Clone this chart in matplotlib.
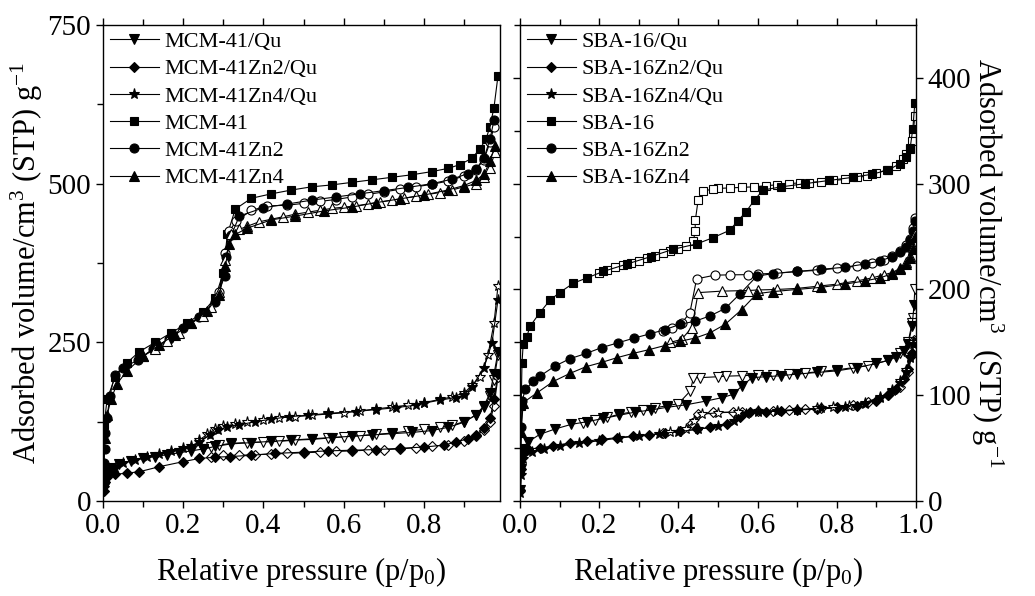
import matplotlib
matplotlib.use("Agg")
import matplotlib.pyplot as plt
from matplotlib.ticker import MultipleLocator

plt.rcParams["font.family"] = ["Liberation Serif", "DejaVu Serif"]
plt.rcParams["mathtext.fontset"] = "custom"
plt.rcParams["mathtext.rm"] = "Liberation Serif"
plt.rcParams["mathtext.it"] = "Liberation Serif:italic"

# ---------------- left panel: MCM-41 family ----------------
mcm_p_ads = [0.003, 0.01, 0.03, 0.06, 0.09, 0.13, 0.17, 0.21, 0.25, 0.28, 0.30, 0.31, 0.33, 0.37, 0.42, 0.47,
             0.52, 0.57, 0.62, 0.67, 0.72, 0.77, 0.82, 0.86, 0.89, 0.92, 0.94, 0.955, 0.965, 0.975, 0.985]
mcm_v_ads = [120, 160, 195, 218, 235, 250, 265, 280, 298, 320, 360, 420, 460, 477, 484, 490,
             495, 498, 502, 506, 510, 514, 519, 524, 530, 540, 555, 570, 590, 620, 670]

mcmzn2_p_ads = [0.002, 0.004, 0.006, 0.01, 0.017, 0.029, 0.05, 0.087, 0.125, 0.165, 0.2, 0.24, 0.28, 0.303, 0.307,
                0.32, 0.34, 0.4, 0.46, 0.52, 0.58, 0.64, 0.7, 0.76, 0.82, 0.87, 0.91, 0.93, 0.95, 0.965, 0.975]
mcmzn2_v_ads = [60, 82, 107, 131, 165, 199, 210, 222, 240, 256, 273, 290, 313, 354, 384,
                419, 449, 462, 468, 474, 479, 484, 489, 494, 500, 507, 516, 523, 540, 570, 600]
mcmzn2_p_des = [0.975, 0.965, 0.95, 0.93, 0.9, 0.86, 0.82, 0.78, 0.74, 0.7, 0.66, 0.62, 0.58, 0.54, 0.5, 0.46,
                0.41, 0.37, 0.332, 0.315, 0.305, 0.29]
mcmzn2_v_des = [590, 565, 538, 522, 512, 504, 499, 495, 491, 487, 483, 479, 475, 472, 469, 466,
                465, 458, 441, 425, 390, 330]

mcmzn4_p_ads = [0.002, 0.005, 0.01, 0.02, 0.035, 0.06, 0.1, 0.14, 0.18, 0.22, 0.26, 0.29, 0.305, 0.315, 0.33,
                0.36, 0.42, 0.48, 0.55, 0.62, 0.68, 0.74, 0.8, 0.86, 0.9, 0.93, 0.95, 0.965, 0.978]
mcmzn4_v_ads = [50, 100, 135, 160, 185, 205, 228, 246, 262, 280, 300, 325, 370, 405, 420,
                430, 443, 449, 457, 463, 470, 476, 482, 490, 497, 505, 515, 535, 560]
mcmzn4_p_des = [0.978, 0.965, 0.95, 0.93, 0.9, 0.87, 0.84, 0.81, 0.78, 0.75, 0.72, 0.69, 0.66, 0.63, 0.6, 0.57,
                0.54, 0.51, 0.48, 0.45, 0.42, 0.39, 0.36, 0.34, 0.32, 0.305, 0.29, 0.27, 0.25, 0.22, 0.19,
                0.16, 0.13, 0.1]
mcmzn4_v_des = [550, 525, 510, 500, 495, 490, 486, 483, 480, 477, 474, 471, 468, 465, 463, 461,
                458, 455, 452, 448, 444, 440, 433, 428, 420, 380, 330, 305, 292, 280, 265,
                252, 240, 228]

mcmqu_p_ads = [0.002, 0.005, 0.01, 0.02, 0.04, 0.07, 0.1, 0.13, 0.16, 0.19, 0.22, 0.25, 0.28, 0.32, 0.37, 0.42,
               0.47, 0.52, 0.57, 0.62, 0.67, 0.72, 0.77, 0.82, 0.86, 0.9, 0.93, 0.95, 0.965, 0.975, 0.985]
mcmqu_v_ads = [20, 35, 45, 52, 58, 63, 67, 70, 73, 76, 79, 82, 86, 90, 92, 94,
               96, 98, 100, 102, 104, 106, 108, 111, 116, 124, 136, 150, 170, 200, 235]
mcmqu_p_des = [0.985, 0.975, 0.965, 0.95, 0.93, 0.9, 0.87, 0.84, 0.8, 0.76, 0.72, 0.68, 0.64, 0.6, 0.56, 0.52,
               0.48, 0.44, 0.4, 0.36, 0.32, 0.29, 0.27, 0.25]
mcmqu_v_des = [230, 190, 165, 148, 135, 125, 119, 116, 113, 110, 107, 105, 103, 101, 99, 97,
               96, 94, 93, 92, 91, 88, 85, 82]

mcmzn2qu_p_ads = [0.002, 0.005, 0.01, 0.03, 0.06, 0.09, 0.14, 0.2, 0.24, 0.28, 0.316, 0.37, 0.43, 0.5, 0.56,
                  0.62, 0.68, 0.74, 0.8, 0.85, 0.88, 0.91, 0.93, 0.95, 0.965, 0.975, 0.985]
mcmzn2qu_v_ads = [15, 30, 38, 42, 44, 46, 54, 62, 67, 69, 70, 72, 75, 77, 79,
                  80, 81, 83, 85, 88, 93, 98, 104, 115, 130, 160, 200]
mcmzn2qu_p_des = [0.985, 0.975, 0.965, 0.95, 0.93, 0.9, 0.86, 0.82, 0.78, 0.74, 0.7, 0.66, 0.62, 0.58, 0.54,
                  0.5, 0.46, 0.42, 0.38, 0.34, 0.3, 0.27]
mcmzn2qu_v_des = [195, 150, 125, 112, 102, 94, 89, 86, 84, 82, 81, 80, 79, 78, 77,
                  76, 75, 74, 73, 72, 72, 70]

mcmzn4qu_p_ads = [0.002, 0.005, 0.01, 0.03, 0.05, 0.08, 0.11, 0.14, 0.17, 0.2, 0.22, 0.24, 0.266, 0.287, 0.31,
                  0.34, 0.38, 0.42, 0.465, 0.51, 0.56, 0.63, 0.68, 0.73, 0.78, 0.8, 0.84, 0.88, 0.9, 0.92,
                  0.95, 0.97, 0.985]
mcmzn4qu_v_ads = [20, 35, 44, 52, 60, 65, 70, 74, 79, 83, 87, 93, 104, 112, 117,
                  120, 125, 129, 133, 135, 138, 141, 144, 147, 151, 154, 159, 163, 167, 180,
                  210, 249, 317]
mcmzn4qu_p_des = [0.985, 0.975, 0.96, 0.94, 0.92, 0.9, 0.87, 0.84, 0.8, 0.76, 0.72, 0.68, 0.64, 0.6, 0.56,
                  0.52, 0.48, 0.44, 0.4, 0.36, 0.33, 0.3, 0.28, 0.26, 0.24]
mcmzn4qu_v_des = [339, 280, 230, 195, 182, 170, 164, 160, 155, 151, 148, 145, 142, 139, 137,
                  135, 133, 131, 128, 124, 121, 118, 113, 105, 96]

# ---------------- right panel: SBA-16 family ----------------
sba_p_ads = [0.001, 0.003, 0.005, 0.008, 0.017, 0.025, 0.05, 0.076, 0.1, 0.135, 0.17, 0.21, 0.27, 0.33, 0.387,
             0.446, 0.488, 0.53, 0.55, 0.57, 0.593, 0.614, 0.66, 0.72, 0.78, 0.84, 0.89, 0.93, 0.96, 0.975,
             0.985, 0.992, 0.997]
sba_v_ads = [40, 90, 130, 148, 155, 165, 178, 190, 197, 206, 211, 217, 224, 231, 238,
             243, 249, 256, 265, 273, 285, 294, 297, 300, 303, 306, 309, 313, 319, 325,
             333, 352, 376]
sba_p_des = [0.997, 0.993, 0.99, 0.985, 0.975, 0.967, 0.95, 0.926, 0.9, 0.875, 0.85, 0.82, 0.79, 0.76, 0.73,
             0.707, 0.68, 0.65, 0.62, 0.59, 0.56, 0.53, 0.5, 0.488, 0.463, 0.45, 0.443, 0.442, 0.438, 0.42,
             0.4, 0.38, 0.36, 0.34, 0.32, 0.3, 0.28, 0.26, 0.24, 0.22, 0.2]
sba_v_des = [364, 348, 340, 334, 328, 323, 317, 313, 310, 307, 306, 304, 303, 302, 301,
             300.8, 300, 299, 298, 297, 296.5, 296, 295.5, 295, 293, 285, 266, 255, 245.6, 241,
             238, 236, 234, 232, 230, 227, 225, 223, 221, 218, 216]

sbazn2_p_ads = [0.001, 0.003, 0.006, 0.013, 0.034, 0.05, 0.088, 0.126, 0.167, 0.206, 0.248, 0.288, 0.328, 0.366,
                0.404, 0.442, 0.48, 0.518, 0.556, 0.598, 0.64, 0.7, 0.76, 0.82, 0.87, 0.91, 0.94, 0.96, 0.975,
                0.985, 0.992, 0.997]
sbazn2_v_ads = [30, 70, 95, 105.5, 113, 118, 127.5, 134.5, 139.5, 145, 149.6, 154, 158, 162,
                167, 170, 175, 182, 196, 212.6, 215, 217, 219, 221, 224, 227, 231, 235, 240,
                247, 255, 264.5]
sbazn2_p_des = [0.997, 0.992, 0.985, 0.975, 0.96, 0.94, 0.92, 0.89, 0.85, 0.8, 0.75, 0.7, 0.65, 0.6, 0.577,
                0.53, 0.492, 0.446, 0.429, 0.408, 0.385, 0.36]
sbazn2_v_des = [268, 258, 248, 242, 236, 232, 228, 225, 222, 220, 218, 217, 215.5, 214.5, 214,
                213.8, 213.5, 210, 178, 168, 164, 161]

sbazn4_p_ads = [0.001, 0.003, 0.008, 0.042, 0.084, 0.126, 0.167, 0.206, 0.245, 0.285, 0.325, 0.366, 0.404, 0.442,
                0.48, 0.518, 0.56, 0.598, 0.64, 0.7, 0.76, 0.82, 0.87, 0.91, 0.94, 0.96, 0.975, 0.985, 0.992,
                0.997]
sbazn4_v_ads = [30, 65, 93, 102, 113, 120.6, 127, 131, 135.5, 139.5, 143, 147, 151, 154,
                159, 167, 181, 196, 198, 200, 202, 205, 208, 211, 215, 219, 224, 230, 238,
                250]
sbazn4_p_des = [0.997, 0.992, 0.985, 0.975, 0.96, 0.94, 0.92, 0.89, 0.85, 0.8, 0.75, 0.7, 0.65, 0.6, 0.577,
                0.509, 0.45, 0.434, 0.408, 0.38]
sbazn4_v_des = [252, 240, 232, 226, 220, 216, 214, 211, 208, 205, 203, 201, 200, 199.5, 199,
                198.4, 197, 164, 152.8, 150]

sbaqu_p_ads = [0.001, 0.002, 0.004, 0.021, 0.05, 0.088, 0.13, 0.17, 0.21, 0.25, 0.29, 0.33, 0.37, 0.42, 0.47,
               0.51, 0.538, 0.56, 0.586, 0.62, 0.66, 0.7, 0.75, 0.8, 0.85, 0.9, 0.93, 0.95, 0.97, 0.98,
               0.99, 0.995]
sbaqu_v_ads = [10, 30, 49, 56, 63, 68, 72.5, 75, 78, 81, 84, 86, 88.5, 91, 94.5,
               97.7, 100.8, 108.6, 116.6, 117.5, 118.5, 120, 121.5, 123, 126, 130, 133, 136, 142, 148,
               165, 185]
sbaqu_p_des = [0.997, 0.993, 0.99, 0.98, 0.96, 0.93, 0.88, 0.84, 0.8, 0.76, 0.72, 0.68, 0.64, 0.6, 0.56,
               0.52, 0.5, 0.455, 0.438, 0.43, 0.4, 0.37, 0.34, 0.31, 0.28, 0.25, 0.22, 0.19, 0.16]
sbaqu_v_des = [200, 173, 168, 150, 140, 133, 128, 126, 124, 122.5, 121, 120, 119.5, 119, 118.5,
               118, 117.5, 116.6, 116.6, 104, 92, 90, 88, 86, 84, 82, 79, 77, 74]

sbazn2qu_p_ads = [0.001, 0.003, 0.008, 0.021, 0.05, 0.084, 0.126, 0.168, 0.206, 0.245, 0.286, 0.325, 0.366,
                  0.404, 0.446, 0.48, 0.522, 0.556, 0.58, 0.62, 0.66, 0.7, 0.75, 0.8, 0.85, 0.9, 0.93,
                  0.95, 0.97, 0.98, 0.99, 0.995]
sbazn2qu_v_ads = [10, 30, 45.7, 48.8, 50.4, 52, 55, 56.6, 58.3, 59.9, 61.4, 62, 64.6,
                  66, 67.7, 69.5, 72.5, 79, 83.8, 84.5, 85, 86, 87, 88, 90, 95, 100,
                  106, 115, 125, 140, 150]
sbazn2qu_p_des = [0.995, 0.99, 0.98, 0.96, 0.93, 0.88, 0.84, 0.8, 0.76, 0.72, 0.68, 0.64, 0.6, 0.56, 0.537,
                  0.487, 0.45, 0.434, 0.404, 0.36]
sbazn2qu_v_des = [152, 138, 122, 108, 100, 94, 91, 89, 88, 87, 86, 85.5, 85, 84.5, 84,
                  83.8, 82, 74, 66, 64.6]

sbazn4qu_p_ads = [0.001, 0.003, 0.008, 0.03, 0.06, 0.1, 0.15, 0.2, 0.25, 0.3, 0.35, 0.4, 0.45, 0.5, 0.54,
                  0.57, 0.6, 0.65, 0.7, 0.76, 0.82, 0.87, 0.91, 0.94, 0.96, 0.975, 0.985, 0.993]
sbazn4qu_v_ads = [8, 25, 40, 46, 49, 52, 54.5, 57, 59.5, 61.5, 63.5, 65.5, 68, 70.5, 76,
                  82, 84, 85, 86, 87.5, 89, 92, 97, 104, 112, 122, 135, 148]
sbazn4qu_p_des = [0.993, 0.985, 0.975, 0.96, 0.94, 0.91, 0.87, 0.83, 0.79, 0.75, 0.7, 0.65, 0.6, 0.55, 0.5,
                  0.46, 0.44, 0.42, 0.38]
sbazn4qu_v_des = [150, 136, 124, 113, 105, 98, 93, 90, 88.5, 87.5, 86.5, 85.5, 85, 84, 83.5,
                  82, 76, 68, 65]

mcm_labels = ["MCM-41/Qu", "MCM-41Zn2/Qu", "MCM-41Zn4/Qu", "MCM-41", "MCM-41Zn2", "MCM-41Zn4"]
sba_labels = ["SBA-16/Qu", "SBA-16Zn2/Qu", "SBA-16Zn4/Qu", "SBA-16", "SBA-16Zn2", "SBA-16Zn4"]
markers = ["v", "D", "*", "s", "o", "^"]
msizes = [6.5, 5.5, 8, 5.5, 6.5, 6.5]

mcm_series = [
    (mcmqu_p_ads, mcmqu_v_ads, mcmqu_p_des, mcmqu_v_des),
    (mcmzn2qu_p_ads, mcmzn2qu_v_ads, mcmzn2qu_p_des, mcmzn2qu_v_des),
    (mcmzn4qu_p_ads, mcmzn4qu_v_ads, mcmzn4qu_p_des, mcmzn4qu_v_des),
    (mcm_p_ads, mcm_v_ads, None, None),
    (mcmzn2_p_ads, mcmzn2_v_ads, mcmzn2_p_des, mcmzn2_v_des),
    (mcmzn4_p_ads, mcmzn4_v_ads, mcmzn4_p_des, mcmzn4_v_des),
]
sba_series = [
    (sbaqu_p_ads, sbaqu_v_ads, sbaqu_p_des, sbaqu_v_des),
    (sbazn2qu_p_ads, sbazn2qu_v_ads, sbazn2qu_p_des, sbazn2qu_v_des),
    (sbazn4qu_p_ads, sbazn4qu_v_ads, sbazn4qu_p_des, sbazn4qu_v_des),
    (sba_p_ads, sba_v_ads, sba_p_des, sba_v_des),
    (sbazn2_p_ads, sbazn2_v_ads, sbazn2_p_des, sbazn2_v_des),
    (sbazn4_p_ads, sbazn4_v_ads, sbazn4_p_des, sbazn4_v_des),
]

W, H = 1035, 596
fig = plt.figure(figsize=(W / 100, H / 100), dpi=100)
ax1 = fig.add_axes([103 / W, (H - 501) / H, (500 - 103) / W, (501 - 25) / H])
ax2 = fig.add_axes([520 / W, (H - 501) / H, (916 - 520) / W, (501 - 25) / H])


def draw(ax, series, labels):
    handles = []
    for (pa, va, pd, vd), lab, m, ms in zip(series, labels, markers, msizes):
        if pd is not None:
            ax.plot(pd, vd, color="black", lw=0.8, marker=m, ms=ms, mfc="white", mec="black", mew=0.8)
        h, = ax.plot(pa, va, color="black", lw=0.8, marker=m, ms=ms, mfc="black", mec="black", mew=0.8,
                     label=lab)
        handles.append(h)
    ax.legend(handles=handles, loc="upper left", bbox_to_anchor=(0.0, 1.0), frameon=False,
              fontsize=16, handlelength=2.2, handletextpad=0.28, labelspacing=0.3,
              borderpad=0.1, borderaxespad=0.2)


draw(ax1, mcm_series, mcm_labels)
draw(ax2, sba_series, sba_labels)

for ax in (ax1, ax2):
    for s in ax.spines.values():
        s.set_linewidth(1.0)
    ax.xaxis.set_major_locator(MultipleLocator(0.2))
    ax.xaxis.set_minor_locator(MultipleLocator(0.1))
    ax.tick_params(axis="x", which="both", direction="out", top=True, bottom=True, labelsize=21, width=1)
    ax.tick_params(which="major", length=5)
    ax.tick_params(which="minor", length=4)
    ax.set_xlabel("Relative pressure (p/p$_0$)", fontsize=22, labelpad=12)

ax1.set_xlim(0, 0.99)
ax1.set_ylim(0, 750)
ax1.yaxis.set_major_locator(MultipleLocator(250))
ax1.yaxis.set_minor_locator(MultipleLocator(125))
ax1.tick_params(axis="y", which="both", direction="out", left=True, right=False, labelsize=21, width=1)
ax1.set_ylabel("Adsorbed volume/cm$^3$ (STP) g$^{-1}$", fontsize=22, labelpad=2)

ax2.set_xlim(0, 1.0)
ax2.set_ylim(0, 450)
ax2.yaxis.set_major_locator(MultipleLocator(100))
ax2.yaxis.set_minor_locator(MultipleLocator(50))
ax2.tick_params(axis="y", which="both", direction="out", left=True, right=True,
                labelleft=False, labelright=True, labelsize=21, width=1)
ax2.tick_params(axis="y", which="minor", right=False)
ax2.yaxis.set_label_position("right")
ax2.set_ylabel("Adsorbed volume/cm$^3$  (STP) g$^{-1}$", fontsize=22, rotation=270, labelpad=24)

fig.savefig("out.png", dpi=100)
